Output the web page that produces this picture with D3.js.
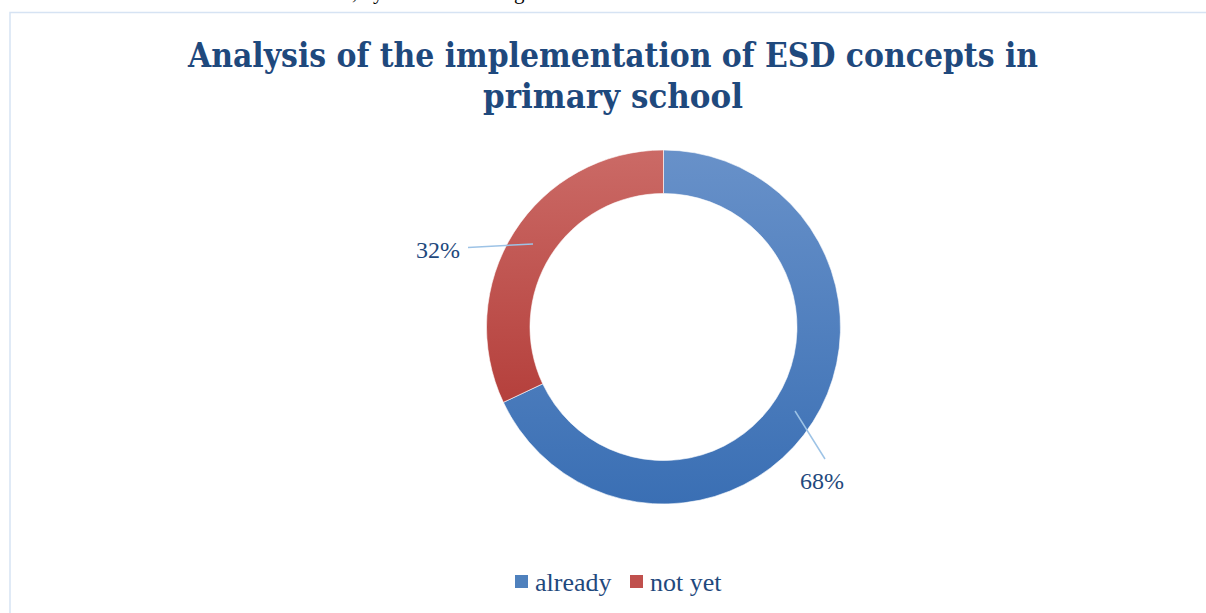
<!DOCTYPE html>
<html>
<head>
<meta charset="utf-8">
<script src="https://cdn.jsdelivr.net/npm/d3@7"></script>
<style>
  body { margin: 0; background: #fff; }
  svg { display: block; }
</style>
</head>
<body>
<div id="chart"></div>
<script>
// data
var categories = ["already", "not yet"];
var values = [68, 32];
var titleLines = ["Analysis of the implementation of ESD concepts in", "primary school"];

var width = 1206, height = 613;
var cx = 663.5, cy = 327, outerR = 177, innerR = 133.5;

var svg = d3.select("#chart").append("svg")
    .attr("width", width)
    .attr("height", height);

var defs = svg.append("defs");

/***** gradients, top light -> bottom dark, across the whole ring (local coords of the donut group) ******/
function addGradient(id, top, bottom) {
  var g = defs.append("linearGradient")
      .attr("id", id)
      .attr("gradientUnits", "userSpaceOnUse")
      .attr("x1", 0).attr("x2", 0)
      .attr("y1", -outerR).attr("y2", outerR);
  g.append("stop").attr("offset", "0%").attr("stop-color", top);
  g.append("stop").attr("offset", "100%").attr("stop-color", bottom);
}
addGradient("gradBlue", "#6891c9", "#3a6fb4");
addGradient("gradRed", "#cb6a66", "#ac2f2b");

var fills = ["url(#gradBlue)", "url(#gradRed)"];
var swatch = ["#4f81bd", "#c0504d"];

// bits of the page text above the chart (only descenders show)
svg.append("text")
   .attr("x", 352).attr("y", -1)
   .style("font-family", "Liberation Serif")
   .style("font-size", "21px")
   .text(", by");
svg.append("text")
   .attr("x", 514).attr("y", -1)
   .style("font-family", "Liberation Serif")
   .style("font-size", "21px")
   .text("g");

// chart area border
svg.append("rect")
   .attr("x", 10).attr("y", 12.5)
   .attr("width", width + 20).attr("height", height + 20)
   .attr("fill", "none")
   .attr("stroke", "#d6e3f3")
   .attr("stroke-width", 1.5);

/***** title ******/
var title = svg.append("text")
   .attr("text-anchor", "middle")
   .style("font-family", "DejaVu Serif")
   .style("font-weight", "bold")
   .style("font-size", "34px")
   .attr("fill", "#1f497d");

title.selectAll("tspan")
   .data(titleLines)
   .enter()
   .append("tspan")
   .attr("x", 613)
   .attr("y", function(d, i) { return 67 + i * 41; })
   .attr("textLength", function(d, i) { return i === 0 ? 850 : 260; })
   .attr("lengthAdjust", "spacingAndGlyphs")
   .text(function(d) { return d; });

/***** donut ******/
var pie = d3.pie().sort(null).value(function(d) { return d; });
var arcs = pie(values);
var arc = d3.arc().innerRadius(innerR).outerRadius(outerR);

var gDonut = svg.append("g")
   .attr("transform", "translate(" + cx + "," + cy + ")");

gDonut.selectAll("path")
   .data(arcs)
   .enter()
   .append("path")
   .attr("d", arc)
   .attr("fill", function(d, i) { return fills[i]; })
   .attr("stroke", "#fff")
   .attr("stroke-width", 0.6);

/***** labels with leader lines ******/
var total = d3.sum(values);
var labelPos = [
  { from: [795, 411], to: [825, 459], tx: 800, ty: 489, anchor: "start" },
  { from: [533, 244], to: [468, 247.5], tx: 460, ty: 258, anchor: "end" }
];

arcs.forEach(function(d, i) {
  var p = labelPos[i];
  svg.append("line")
     .attr("x1", p.from[0]).attr("y1", p.from[1])
     .attr("x2", p.to[0]).attr("y2", p.to[1])
     .attr("stroke", "#9dc3e6")
     .attr("stroke-width", 1.5);
  svg.append("text")
     .attr("x", p.tx).attr("y", p.ty)
     .attr("text-anchor", p.anchor)
     .style("font-family", "Liberation Serif")
     .style("font-size", "24px")
     .attr("fill", "#1f497d")
     .text(Math.round(d.data / total * 100) + "%");
});

/***** legend ******/
var legendX = [515, 630];
var gLegend = svg.append("g");
categories.forEach(function(c, i) {
  gLegend.append("rect")
     .attr("x", legendX[i]).attr("y", 575)
     .attr("width", 13).attr("height", 13)
     .attr("fill", swatch[i]);
  gLegend.append("text")
     .attr("x", legendX[i] + 20).attr("y", 591)
     .style("font-family", "Liberation Serif")
     .style("font-size", "26px")
     .attr("fill", "#1f497d")
     .text(c);
});
</script>
</body>
</html>
